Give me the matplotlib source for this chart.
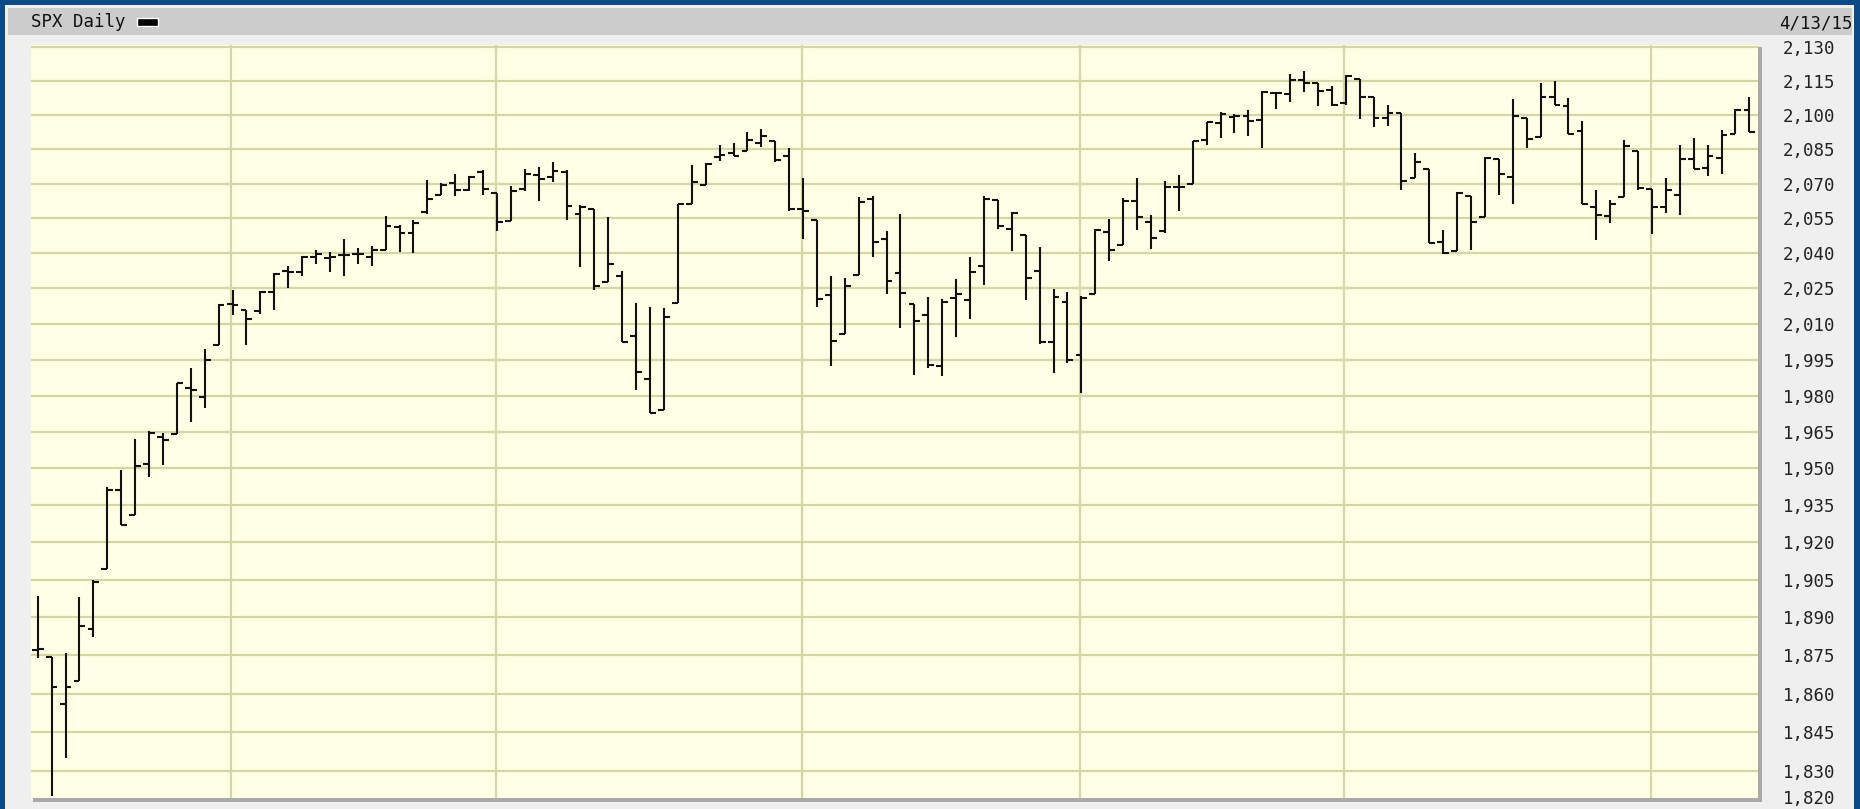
import matplotlib
matplotlib.use('Agg')
import matplotlib.pyplot as plt
from matplotlib.patches import Rectangle
from matplotlib.ticker import FixedLocator, NullLocator, FuncFormatter

# SPX daily OHLC, 10/14/14 - 4/13/15
dates = ['10/14', '10/15', '10/16', '10/17', '10/20', '10/21', '10/22', '10/23', '10/24', '10/27',
         '10/28', '10/29', '10/30', '10/31',
         '11/03', '11/04', '11/05', '11/06', '11/07', '11/10', '11/11', '11/12', '11/13', '11/14',
         '11/17', '11/18', '11/19', '11/20', '11/21', '11/24', '11/25', '11/26', '11/28',
         '12/01', '12/02', '12/03', '12/04', '12/05', '12/08', '12/09', '12/10', '12/11', '12/12',
         '12/15', '12/16', '12/17', '12/18', '12/19', '12/22', '12/23', '12/24', '12/26', '12/29',
         '12/30', '12/31',
         '01/02', '01/05', '01/06', '01/07', '01/08', '01/09', '01/12', '01/13', '01/14', '01/15',
         '01/16', '01/20', '01/21', '01/22', '01/23', '01/26', '01/27', '01/28', '01/29', '01/30',
         '02/02', '02/03', '02/04', '02/05', '02/06', '02/09', '02/10', '02/11', '02/12', '02/13',
         '02/17', '02/18', '02/19', '02/20', '02/23', '02/24', '02/25', '02/26', '02/27',
         '03/02', '03/03', '03/04', '03/05', '03/06', '03/09', '03/10', '03/11', '03/12', '03/13',
         '03/16', '03/17', '03/18', '03/19', '03/20', '03/23', '03/24', '03/25', '03/26', '03/27',
         '03/30', '03/31',
         '04/01', '04/02', '04/06', '04/07', '04/08', '04/09', '04/10', '04/13']

opens = [1877.1, 1874.2, 1856.0, 1864.9, 1885.6, 1909.4, 1941.3, 1931.0, 1951.6, 1963.0,
         1964.1, 1983.3, 1979.5, 2001.2,
         2018.2, 2015.8, 2015.3, 2023.3, 2032.4, 2032.0, 2038.2, 2037.8, 2039.2, 2039.7,
         2038.3, 2041.5, 2051.2, 2048.7, 2057.5, 2065.1, 2070.2, 2067.4, 2074.8,
         2065.8, 2053.8, 2067.5, 2073.6, 2072.8, 2074.8, 2056.6, 2058.9, 2027.9, 2030.4,
         2005.0, 1986.7, 1973.8, 2019.0, 2061.0, 2069.3, 2081.5, 2083.3, 2084.3, 2087.6,
         2088.5, 2082.1,
         2058.9, 2054.4, 2022.2, 2005.6, 2030.6, 2063.5, 2046.1, 2031.6, 2018.4, 2013.8,
         1992.3, 2020.8, 2020.2, 2034.3, 2063.0, 2050.4, 2047.9, 2032.3, 2002.5, 2019.4,
         1996.7, 2022.7, 2048.9, 2043.5, 2062.3, 2053.5, 2049.4, 2068.6, 2070.0, 2088.8,
         2096.5, 2099.2, 2099.3, 2097.7, 2109.8, 2109.1, 2115.3, 2113.9, 2110.9,
         2105.2, 2115.8, 2107.7, 2098.5, 2100.9, 2072.3, 2076.1, 2044.7, 2041.1, 2064.6,
         2055.4, 2080.6, 2072.8, 2098.7, 2090.3, 2108.0, 2103.9, 2093.1, 2059.9, 2055.8,
         2064.1, 2084.1,
         2067.6, 2060.0, 2064.9, 2080.8, 2076.9, 2081.3, 2091.5, 2102.0]

highs = [1898.7, 1874.2, 1876.0, 1898.2, 1905.0, 1942.5, 1949.3, 1962.0, 1965.3, 1964.6,
         1985.1, 1991.4, 1999.4, 2018.2,
         2024.5, 2016.0, 2023.8, 2031.6, 2034.3, 2038.7, 2041.3, 2040.3, 2046.2, 2042.2,
         2043.1, 2056.1, 2052.1, 2054.4, 2071.5, 2070.2, 2074.2, 2073.3, 2075.8,
         2065.8, 2068.8, 2076.3, 2077.3, 2079.5, 2075.8, 2060.6, 2058.9, 2055.5, 2032.3,
         2018.7, 2016.9, 2016.8, 2061.2, 2077.9, 2078.8, 2086.7, 2087.6, 2092.7, 2093.6,
         2088.5, 2085.6,
         2072.4, 2054.4, 2030.3, 2029.6, 2064.1, 2064.4, 2049.3, 2056.9, 2018.4, 2021.4,
         2020.5, 2028.9, 2038.3, 2064.6, 2063.0, 2057.6, 2047.9, 2042.5, 2024.6, 2023.3,
         2021.7, 2050.3, 2054.7, 2063.6, 2072.4, 2056.2, 2070.9, 2073.5, 2088.5, 2097.0,
         2101.3, 2100.2, 2102.1, 2110.6, 2110.1, 2117.9, 2119.6, 2113.9, 2112.7,
         2117.5, 2115.8, 2107.7, 2104.3, 2100.9, 2083.5, 2076.1, 2050.1, 2066.4, 2064.6,
         2081.4, 2080.6, 2106.9, 2098.7, 2113.9, 2114.9, 2107.6, 2097.4, 2067.2, 2062.8,
         2089.0, 2084.1,
         2067.6, 2072.2, 2087.0, 2089.8, 2086.7, 2093.3, 2102.6, 2107.7]

lows = [1874.1, 1820.7, 1835.0, 1864.9, 1882.3, 1909.4, 1926.8, 1931.0, 1946.3, 1951.4,
        1964.1, 1969.0, 1974.8, 2001.2,
        2013.7, 2001.0, 2014.0, 2015.9, 2025.1, 2030.2, 2035.3, 2032.0, 2030.4, 2035.2,
        2034.5, 2041.5, 2040.4, 2040.2, 2056.8, 2065.1, 2064.8, 2066.6, 2065.1,
        2049.6, 2053.8, 2066.7, 2062.3, 2070.8, 2054.3, 2034.2, 2024.3, 2027.9, 2002.3,
        1982.3, 1972.6, 1973.8, 2019.0, 2061.0, 2069.3, 2079.8, 2081.9, 2084.3, 2085.8,
        2079.5, 2057.9,
        2046.0, 2017.3, 1992.4, 2005.6, 2030.6, 2038.3, 2022.6, 2008.3, 1988.4, 1991.5,
        1988.1, 2004.5, 2012.0, 2026.4, 2050.5, 2041.0, 2019.9, 2001.5, 1989.2, 1993.4,
        1980.9, 2022.7, 2036.7, 2043.5, 2050.0, 2041.9, 2048.6, 2058.0, 2070.0, 2086.7,
        2089.8, 2092.2, 2090.8, 2085.4, 2102.5, 2105.9, 2109.9, 2103.8, 2103.8,
        2104.5, 2098.3, 2094.5, 2095.2, 2067.3, 2072.2, 2044.2, 2039.7, 2041.1, 2041.2,
        2055.4, 2065.1, 2061.2, 2085.6, 2090.3, 2104.4, 2091.5, 2061.1, 2045.5, 2053.0,
        2064.1, 2067.0,
        2048.4, 2057.3, 2056.5, 2076.1, 2073.3, 2074.3, 2091.5, 2092.3]

closes = [1877.7, 1862.5, 1862.8, 1886.8, 1904.0, 1941.3, 1927.1, 1950.8, 1964.6, 1961.6,
          1985.1, 1982.3, 1994.7, 2018.1,
          2017.8, 2012.1, 2023.6, 2031.2, 2031.9, 2038.3, 2039.7, 2038.3, 2039.3, 2039.8,
          2041.3, 2051.8, 2048.7, 2052.8, 2063.5, 2069.4, 2067.0, 2072.8, 2067.6,
          2053.4, 2066.6, 2074.3, 2071.9, 2075.4, 2060.3, 2059.8, 2026.1, 2035.3, 2002.3,
          1989.6, 1972.7, 2012.9, 2061.2, 2070.7, 2078.5, 2082.2, 2081.9, 2088.8, 2090.6,
          2080.4, 2058.9,
          2058.2, 2020.6, 2002.6, 2025.9, 2062.1, 2044.8, 2028.3, 2023.0, 2011.3, 1992.7,
          2019.4, 2022.6, 2032.1, 2063.2, 2051.8, 2057.1, 2029.6, 2002.2, 2021.3, 1995.0,
          2020.9, 2050.0, 2041.5, 2062.5, 2055.5, 2046.7, 2068.6, 2068.5, 2088.5, 2097.0,
          2100.3, 2099.7, 2097.5, 2110.3, 2109.7, 2115.5, 2113.9, 2110.7, 2104.5,
          2117.4, 2107.8, 2098.5, 2101.0, 2071.3, 2079.4, 2044.2, 2040.2, 2066.0, 2053.4,
          2081.2, 2074.3, 2099.5, 2089.3, 2108.1, 2104.4, 2091.5, 2061.1, 2056.2, 2061.0,
          2086.2, 2067.9,
          2059.7, 2067.0, 2080.6, 2076.3, 2081.9, 2091.2, 2102.1, 2092.4]

y_ticks = [2130, 2115, 2100, 2085, 2070, 2055, 2040, 2025, 2010, 1995, 1980, 1965, 1950,
           1935, 1920, 1905, 1890, 1875, 1860, 1845, 1830, 1820]

W, H = 1860, 809
fig = plt.figure(figsize=(W / 100, H / 100), dpi=100)
fig.patch.set_facecolor('#efefef')


def px_rect(x0, y0, x1, y1, color, z=0, **kw):
    # rectangle in pixel coords, origin top-left
    r = Rectangle((x0 / W, 1 - y1 / H), (x1 - x0) / W, (y1 - y0) / H,
                  transform=fig.transFigure, facecolor=color, zorder=z, **kw)
    fig.patches.append(r)


# blue frame + grey header
px_rect(0, 0, W, 5, '#0a4a86', edgecolor='none')
px_rect(0, 0, 5, H, '#0a4a86', edgecolor='none')
px_rect(W - 6, 0, W, H, '#0a4a86', edgecolor='none')
px_rect(8, 8, W - 8, 35, '#cccccc', edgecolor='none')
px_rect(137, 18, 158, 26, 'black', edgecolor='white', linewidth=1)
# shadow of the plot area
px_rect(33, 798, 1762, 802, '#a9a9a9', edgecolor='none')
px_rect(1758, 47, 1762, 802, '#a9a9a9', edgecolor='none')

mono = 'DejaVu Sans Mono'
fig.text(31 / W, 1 - 22 / H, 'SPX Daily', family=mono, fontsize=12.5,
         ha='left', va='center', color='#111111')
fig.text(1853 / W, 1 - 23 / H, '4/13/15', family=mono, fontsize=12.5,
         ha='right', va='center', color='#111111')

ax = fig.add_axes([31 / W, 1 - 799 / H, (1759 - 31) / W, (799 - 45) / H])
ax.set_facecolor('#ffffe6')
ax.set_yscale('log')
ax.set_ylim(1819.4, 2131)
ax.set_xlim(-0.48, 123.69)

for s in ax.spines.values():
    s.set_visible(False)

ax.yaxis.set_major_locator(FixedLocator(y_ticks))
ax.yaxis.set_minor_locator(NullLocator())
ax.yaxis.set_major_formatter(FuncFormatter(lambda v, p: f'{v:,.0f}'))
ax.yaxis.tick_right()
ax.tick_params(axis='y', length=0, pad=17, labelsize=12.5, labelcolor='#222222')
for lab in ax.get_yticklabels():
    lab.set_family(mono)
ax.set_xticks([])

grid_c = '#d6d6a4'
for t in y_ticks:
    if t != 1820:
        ax.axhline(t, color=grid_c, lw=1.6, zorder=1)

# month start gridlines
for i in range(1, len(dates)):
    if dates[i][:2] != dates[i - 1][:2]:
        ax.axvline(i - 0.1, color=grid_c, lw=1.6, zorder=1)

x = list(range(len(dates)))
tw = 0.42
ax.vlines(x, lows, highs, color='#111111', lw=1.5, zorder=3)
ax.hlines(opens, [i - tw for i in x], x, color='#111111', lw=1.5, zorder=3)
ax.hlines(closes, x, [i + tw for i in x], color='#111111', lw=1.5, zorder=3)

plt.savefig('out.png', dpi=100, facecolor=fig.get_facecolor())
